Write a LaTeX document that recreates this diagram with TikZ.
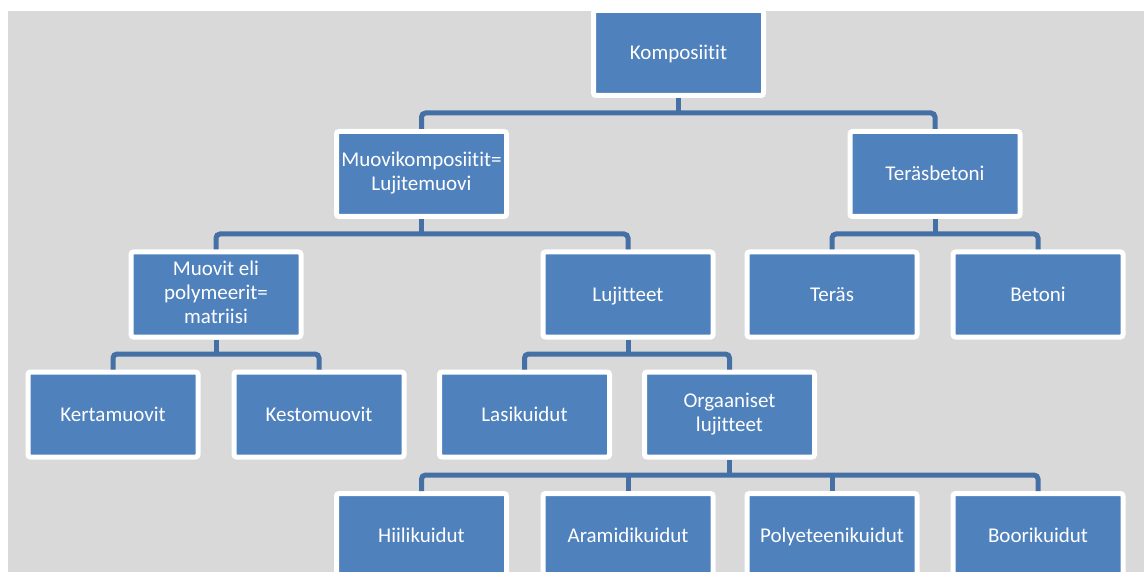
\documentclass[tikz,border=0pt]{standalone}
\usepackage{fontspec}
\setmainfont{Carlito}[Ligatures=NoCommon]
\usepackage{xcolor}
\definecolor{laatikko}{RGB}{79, 129, 189}
\definecolor{viiva}{RGB}{68, 112, 165}
\definecolor{tausta}{RGB}{217, 217, 217}
\usepackage{tikz}
\usetikzlibrary{calc}
\newcommand{\tuki}{\rule[-5.2pt]{0pt}{24pt}}

\tikzset{
  osa/.style={rectangle, fill=laatikko, draw=white, line width=5pt, rounded corners=2.5pt,
    minimum width=170pt, minimum height=85pt, inner sep=2pt, align=center,
    text=white, font=\fontsize{21}{24}\selectfont,
    execute at begin node=\tuki, execute at end node=\tuki},
  liitos/.style={draw=viiva, line width=5pt, rounded corners=4pt}
}

\begin{document}
\begin{tikzpicture}[x=1pt, y=-1pt]
  \useasboundingbox (0,0) rectangle (1144,572);
  \clip (0,0) rectangle (1144,572);
  \fill[tausta] (8,11) rectangle (1144,572);
  % ylin taso
  \node[osa] (kompo) at (678.5,53) {Komposiitit};
  \node[osa] (muovik) at (421.5,174) {Muovikomposiitit=\\Lujitemuovi};
  \node[osa] (terasb) at (935,174) {Teräsbetoni};
  % toinen taso
  \node[osa] (muovit) at (216,294.5) {Muovit eli\\polymeerit=\\matriisi};
  \node[osa] (lujit) at (628,294.5) {Lujitteet};
  \node[osa] (teras) at (832,294.5) {Teräs};
  \node[osa] (betoni) at (1038,294.5) {Betoni};
  % kolmas taso
  \node[osa] (kerta) at (113,414.5) {Kertamuovit};
  \node[osa] (kesto) at (319,414.5) {Kestomuovit};
  \node[osa] (lasi) at (524.5,414.5) {Lasikuidut};
  \node[osa] (orgaan) at (729.5,414.5) {Orgaaniset\\lujitteet};
  % kuidut
  \node[osa] (hiili) at (421.5,536) {Hiilikuidut};
  \node[osa] (aramid) at (628,536) {Aramidikuidut};
  \node[osa] (polyet) at (832,536) {Polyeteenikuidut};
  \node[osa] (boori) at (1038,536) {Boorikuidut};
  % liitokset
  \coordinate (h1) at (kompo.south |- 0,113);
  \draw[liitos] (kompo.south) -- (h1);
  \draw[liitos] (muovik.north) |- (h1) -| (terasb.north);
  \coordinate (h2) at (muovik.south |- 0,234);
  \draw[liitos] (muovik.south) -- (h2);
  \draw[liitos] (muovit.north) |- (h2) -| (lujit.north);
  \coordinate (h3) at (terasb.south |- 0,234);
  \draw[liitos] (terasb.south) -- (h3);
  \draw[liitos] (teras.north) |- (h3) -| (betoni.north);
  \coordinate (h4) at (muovit.south |- 0,354);
  \draw[liitos] (muovit.south) -- (h4);
  \draw[liitos] (kerta.north) |- (h4) -| (kesto.north);
  \coordinate (h5) at (lujit.south |- 0,354);
  \draw[liitos] (lujit.south) -- (h5);
  \draw[liitos] (lasi.north) |- (h5) -| (orgaan.north);
  \coordinate (h6) at (orgaan.south |- 0,475);
  \draw[liitos] (orgaan.south) -- (h6);
  \draw[liitos] (hiili.north) |- (h6) -| (boori.north);
  \draw[liitos] (aramid.north) -- (aramid.north |- h6);
  \draw[liitos] (polyet.north) -- (polyet.north |- h6);
\end{tikzpicture}
\end{document}
